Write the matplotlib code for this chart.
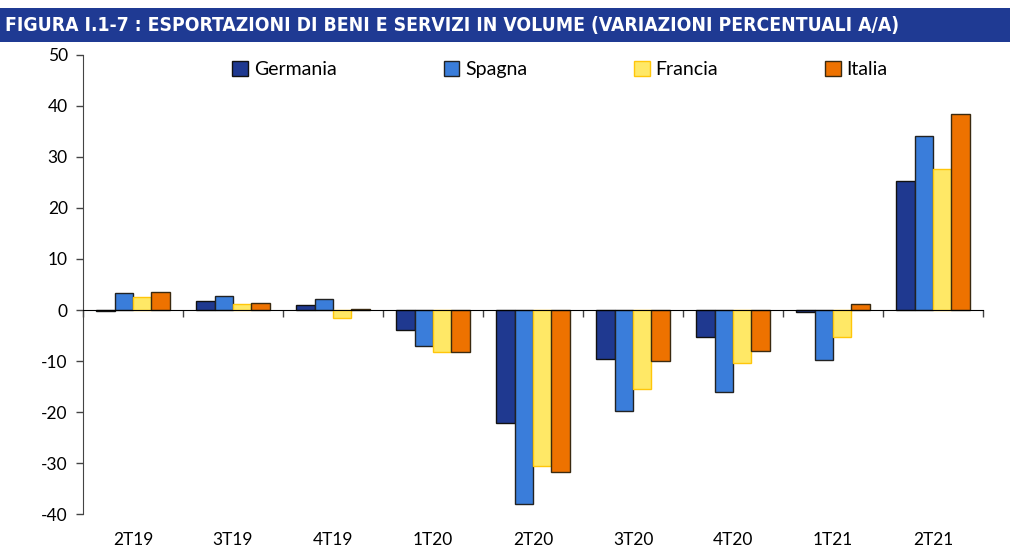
import numpy as np
import matplotlib
matplotlib.use("Agg")
import matplotlib.pyplot as plt
from matplotlib import font_manager
from matplotlib.patches import Rectangle

categories = ["2T19", "3T19", "4T19", "1T20", "2T20", "3T20", "4T20", "1T21", "2T21"]
germania = [-0.1, 1.8, 1.0, -3.9, -22.2, -9.5, -5.3, -0.45, 25.3]
spagna = [3.3, 2.7, 2.15, -7.0, -38.0, -19.8, -16.0, -9.7, 34.1]
francia = [2.5, 1.1, -1.5, -8.3, -30.6, -15.4, -10.4, -5.2, 27.7]
italia = [3.5, 1.4, 0.3, -8.3, -31.7, -9.9, -8.0, 1.1, 38.4]

series = [
    ("Germania", germania, "#1F3990", "#111111"),
    ("Spagna", spagna, "#3A7DDA", "#222222"),
    ("Francia", francia, "#FFE866", "#FFC60A"),
    ("Italia", italia, "#EE7200", "#3A2A10"),
]

plt.rcParams["font.family"] = ["Lato", "DejaVu Sans"]
plt.rcParams["axes.unicode_minus"] = False

fig = plt.figure(figsize=(10.19, 5.48), dpi=100)

# title banner
fig.patches.append(Rectangle((0.0, 1 - 42 / 548), 1010 / 1019, 34 / 548,
                             transform=fig.transFigure, facecolor="#1F3A93",
                             edgecolor="none", zorder=0))
names = {f.name for f in font_manager.fontManager.ttflist}
narrow = "Liberation Sans Narrow" if "Liberation Sans Narrow" in names else "DejaVu Sans"
fig.text(5 / 1019, 1 - 25 / 548,
         "FIGURA I.1-7 : ESPORTAZIONI DI BENI E SERVIZI IN VOLUME (VARIAZIONI PERCENTUALI A/A)",
         color="white", fontsize=13.9, fontweight="bold", fontstretch="condensed",
         family=[narrow, "DejaVu Sans"], va="center", ha="left")

ax = fig.add_axes([83 / 1019, 1 - 514.3 / 548, 900 / 1019, 459.6 / 548])

x = np.arange(len(categories))
w = 0.183
for i, (name, vals, fc, ec) in enumerate(series):
    ax.bar(x + (i - 1.5) * w, vals, width=w, color=fc, edgecolor=ec,
           linewidth=1.0, label=name, zorder=2)

ax.set_xlim(-0.5, len(categories) - 0.5)
ax.set_ylim(-40, 50)
ax.set_yticks(np.arange(-40, 51, 10))
ax.tick_params(axis="y", direction="out", length=5, width=1, pad=6,
               labelsize=12.5, color="#444444")

ax.spines["top"].set_visible(False)
ax.spines["right"].set_visible(False)
ax.spines["left"].set_color("#444444")
ax.spines["bottom"].set_position(("data", 0))
ax.spines["bottom"].set_color("black")
ax.set_xticks(np.arange(-0.5, len(categories), 1.0))
ax.set_xticklabels([])
ax.tick_params(axis="x", direction="out", length=5, width=1, color="#444444")

for xi, lab in zip(x, categories):
    ax.text(xi, -0.056, lab, transform=ax.get_xaxis_transform(),
            ha="center", va="center", fontsize=12.5)

leg = ax.legend(loc="upper center", bbox_to_anchor=(0.53, 1.025), ncol=4,
                frameon=False, fontsize=14, handlelength=0.8, handleheight=0.8,
                handletextpad=0.3, columnspacing=5.5)

fig.savefig("out.png", dpi=100)
